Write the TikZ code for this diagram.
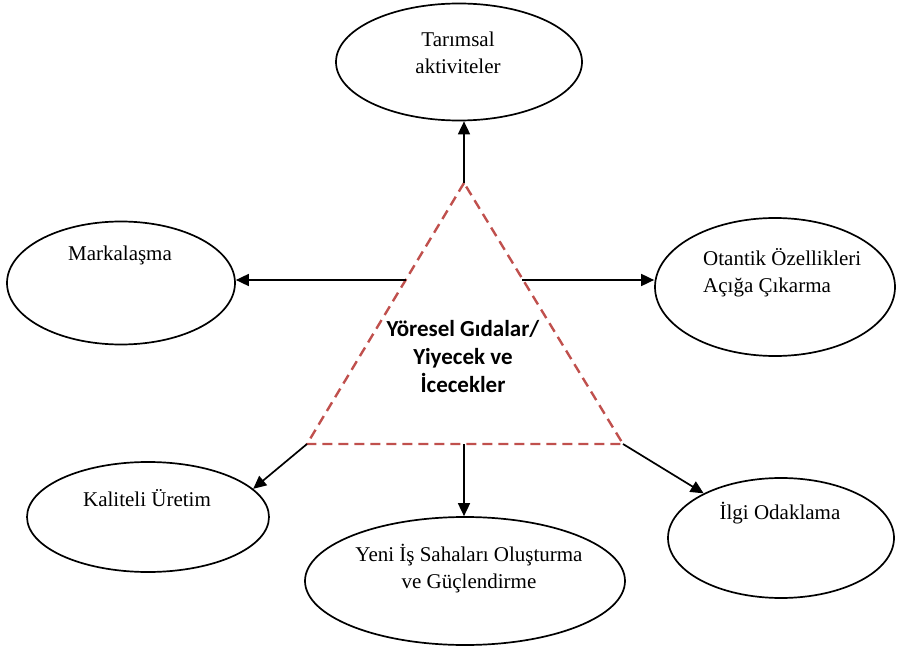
\documentclass[tikz,border=0pt]{standalone}
\usepackage{fontspec}
\setmainfont{Liberation Serif}
\newfontfamily\headfont{Carlito}
\usetikzlibrary{shapes.geometric,arrows.meta}
\definecolor{dashred}{RGB}{192,80,77}
\begin{document}
\begin{tikzpicture}[x=1pt,y=-1pt,
  oval/.style={draw=black,line width=1.7pt,ellipse,inner sep=0pt},
  lbl/.style={font=\fontsize{21}{27}\selectfont,align=center,inner sep=0pt},
  link/.style={draw=black,line width=1.7pt,-{Triangle[length=13pt,width=12pt]}},
  core/.style={draw=dashred,line width=2.4pt,dash pattern=on 10pt off 6pt},
  coretext/.style={font=\headfont\bfseries\fontsize{23}{28}\selectfont,align=center,inner sep=0pt}]
\useasboundingbox (0,0) rectangle (897,647);

% outer topics
\node[oval,minimum width=246pt,minimum height=117pt] (tar) at (459,62) {};
\node[lbl] (tartxt) at (458,53) {Tarımsal\\aktiviteler};

\node[oval,minimum width=228pt,minimum height=123pt] (mark) at (121,283) {};
\node[lbl] (marktxt) at (120,255) {Markalaşma};

\node[oval,minimum width=240pt,minimum height=138pt] (ota) at (775,287) {};
\node[lbl,align=left,anchor=west] (otatxt) at (703,273) {Otantik Özellikleri\\Açığa Çıkarma};

\node[oval,minimum width=242pt,minimum height=110pt] (kal) at (148,517) {};
\node[lbl] (kaltxt) at (147,498) {Kaliteli Üretim};

\node[oval,minimum width=320pt,minimum height=128pt] (yeni) at (465,581) {};
\node[lbl] (yenitxt) at (469,569) {Yeni İş Sahaları Oluşturma\\ve Güçlendirme};

\node[oval,minimum width=226pt,minimum height=120pt] (ilgi) at (781,538) {};
\node[lbl] (ilgitxt) at (780,513) {İlgi Odaklama};

% central triangle
\coordinate (apex) at (464,183);
\coordinate (bl) at (307,444);
\coordinate (br) at (623,444);
\coordinate (lp) at (406,280);
\coordinate (rp) at (522,280);
\coordinate (bm) at (464,444);
\draw[core] (apex) -- (bl) -- (br) -- cycle;
\node[coretext] (core) at (463,357) {Yöresel Gıdalar/\\Yiyecek ve\\İcecekler};

% connectors
\draw[link] (apex) -- (apex |- tar.south);
\draw[link] (lp) -- (lp -| mark.east);
\draw[link] (rp) -- (rp -| ota.west);
\draw[link] (bl) -- (kal.15);
\draw[link] (bm) -- (bm |- yeni.north);
\draw[link] (br) -- (ilgi.150);
\end{tikzpicture}
\end{document}
